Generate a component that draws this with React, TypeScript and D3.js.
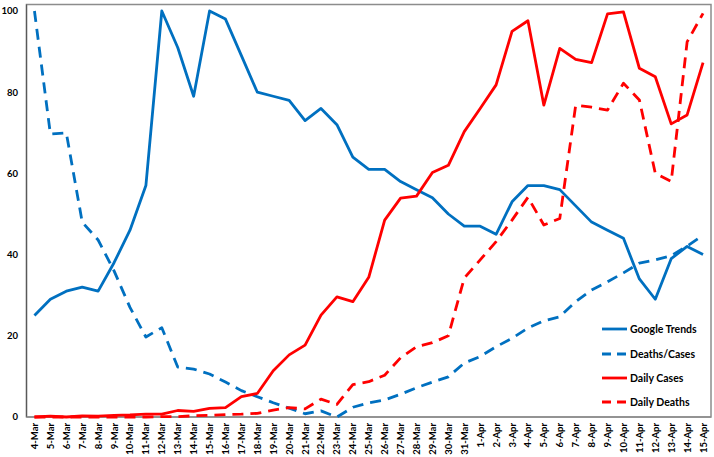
import React from "react";
import * as d3 from "d3";

const dates = [
  "4-Mar","5-Mar","6-Mar","7-Mar","8-Mar","9-Mar","10-Mar","11-Mar","12-Mar","13-Mar","14-Mar","15-Mar","16-Mar","17-Mar","18-Mar","19-Mar","20-Mar","21-Mar","22-Mar","23-Mar","24-Mar","25-Mar","26-Mar","27-Mar","28-Mar","29-Mar","30-Mar","31-Mar",
  "1-Apr","2-Apr","3-Apr","4-Apr","5-Apr","6-Apr","7-Apr","8-Apr","9-Apr","10-Apr","11-Apr","12-Apr","13-Apr","14-Apr","15-Apr",
];

const googleTrends = [25,29,31,32,31,38,46,57,100,91,79,100,98,89,80,79,78,73,76,72,64,61,61,58,56,54,50,47,47,45,53,57,57,56,52,48,46,44,34,29,39,42,40];
const deathsCases = [100,69.7,70,48,43.6,36,27,19.7,22,12.3,11.8,10.6,8.6,6.5,5,3.5,2.2,0.8,1.5,0,2.4,3.5,4.2,5.6,7.2,8.6,9.9,13.3,14.9,17.3,19.4,21.9,23.7,24.7,28.4,31.3,33.3,35.5,37.9,38.7,39.7,42.1,44.8];
const dailyCases = [0,0.2,0,0.3,0.2,0.4,0.5,0.7,0.7,1.6,1.4,2.1,2.3,5,5.8,11.4,15.3,17.7,25.1,29.6,28.4,34.4,48.5,53.9,54.4,60.2,62,70.3,76,81.8,95,97.6,76.8,90.8,88.1,87.3,99.3,99.8,85.9,83.8,72.2,74.4,87.3];
const dailyDeaths = [0,0,0,0,0,0,0,0,0.1,0.1,0.3,0.4,0.6,0.7,0.9,1.7,2.3,2.0,4.4,3.1,8,8.7,10.3,14.6,17.3,18.3,20,34.2,38.7,43.2,48.5,54.1,47.3,48.9,76.8,76.3,75.6,82.2,78.1,60,58,92.4,99.4];

const yTicks = [0, 20, 40, 60, 80, 100];

const seriesNames = ["Google Trends", "Deaths/Cases", "Daily Cases", "Daily Deaths"];

const W = 714;
const H = 457;
const FONT = "Lato, 'Open Sans', sans-serif";

export default function App() {
  const left = 26.5, right = 711, top = 4.5, bottom = 417;
  const x = d3.scaleBand<string>().domain(dates).range([left, right]);
  const y = d3.scaleLinear().domain([0, 100]).range([bottom, 11]);
  const cx = (d: string) => (x(d) as number) + x.bandwidth() / 2;

  const series = [
    { name: seriesNames[0], values: googleTrends, color: "#0070C0", dash: undefined as string | undefined },
    { name: seriesNames[1], values: deathsCases, color: "#0070C0", dash: "11,7" },
    { name: seriesNames[2], values: dailyCases, color: "#FF0000", dash: undefined },
    { name: seriesNames[3], values: dailyDeaths, color: "#FF0000", dash: "11,7" },
  ];

  const line = d3
    .line<[string, number]>()
    .x((d) => cx(d[0]))
    .y((d) => y(d[1]));

  const legendX1 = 602, legendX2 = 627, legendTextX = 630;
  const legendY = [329, 354, 378, 402];

  return (
    <svg
      width={W}
      height={H}
      style={{ position: "absolute", left: 0, top: 0, background: "#fff" }}
      fontFamily={FONT}
    >
      <rect x={0} y={0} width={W} height={H} fill="#fff" />
      {/* plot frame */}
      <rect x={left} y={top} width={right - left} height={bottom - top} fill="none" stroke="#8c8c8c" strokeWidth={1.5} />
      <line x1={left} x2={left} y1={top} y2={bottom} stroke="#595959" strokeWidth={1.2} />
      <line x1={left} x2={right} y1={bottom} y2={bottom} stroke="#8c8c8c" strokeWidth={1.5} />

      {/* y tick labels */}
      {yTicks.map((t) => (
        <text key={t} x={18} y={y(t)} dy="0.35em" textAnchor="end" fontSize={9.5} fontWeight={700} fill="#000">
          {t}
        </text>
      ))}

      {/* x tick labels */}
      {dates.map((d) => (
        <text
          key={d}
          transform={`translate(${cx(d) + 3.5},423) rotate(-90)`}
          textAnchor="end"
          fontSize={9.5}
          fontWeight={700}
          fill="#000"
        >
          {d}
        </text>
      ))}

      {/* series */}
      {series.map((s) => (
        <path
          key={s.name}
          d={line(dates.map((d, i) => [d, s.values[i]] as [string, number])) || ""}
          fill="none"
          stroke={s.color}
          strokeWidth={2.8}
          strokeDasharray={s.dash}
          strokeLinejoin="round"
        />
      ))}

      {/* legend */}
      {series.map((s, i) => (
        <g key={s.name}>
          <line
            x1={legendX1}
            x2={legendX2}
            y1={legendY[i]}
            y2={legendY[i]}
            stroke={s.color}
            strokeWidth={2.8}
            strokeDasharray={s.dash ? "9,6" : undefined}
          />
          <text x={legendTextX} y={legendY[i]} dy="0.35em" fontSize={10.5} fontWeight={700} fill="#000">
            {s.name}
          </text>
        </g>
      ))}
    </svg>
  );
}
